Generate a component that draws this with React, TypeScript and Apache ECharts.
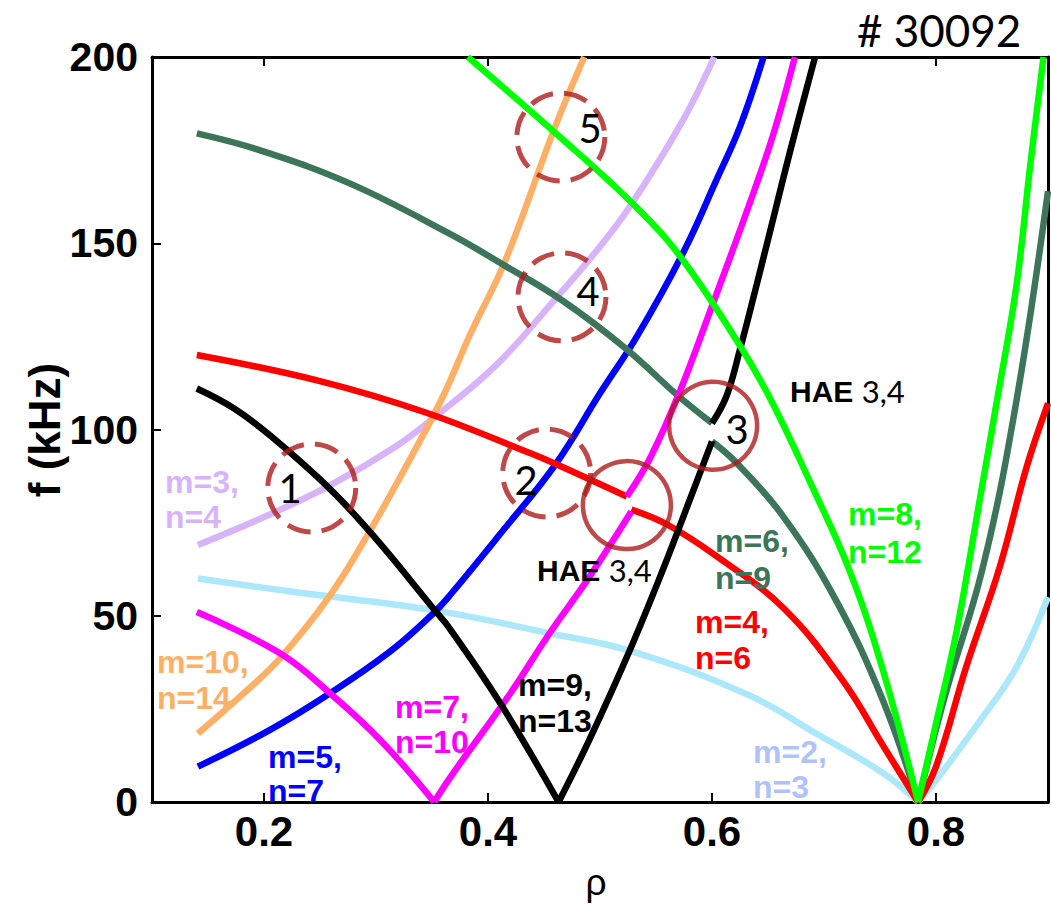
import React, { useEffect, useRef } from 'react';
import * as echarts from 'echarts';

// ---- axes ----
const xTicks = [0.2, 0.4, 0.6, 0.8];
const yTicks = [0, 50, 100, 150, 200];

// ---- curves: [rho, f (kHz)] ----
const m2n3Left = [[0.141, 60], [0.229, 56.3], [0.351, 51.5], [0.455, 45.3], [0.53, 40.3], [0.634, 28.5], [0.693, 18.4], [0.753, 7.7], [0.784, 0]];
const m2n3Right = [[0.784, 0], [0.798, 5], [0.842, 22.9], [0.872, 36.3], [0.9, 55]];
const m3n4 = [[0.141, 69], [0.2, 76.5], [0.259, 85], [0.318, 95.5], [0.351, 103], [0.408, 117.5], [0.46, 135], [0.497, 148], [0.527, 160], [0.574, 183], [0.602, 200]];
const m10n14 = [[0.141, 18.4], [0.179, 28.4], [0.214, 38.5], [0.259, 55.5], [0.295, 73], [0.333, 93.5], [0.36, 109], [0.384, 125.5], [0.415, 145], [0.46, 181.3], [0.486, 200]];
const m5n7 = [[0.141, 9.5], [0.205, 19.3], [0.259, 29.2], [0.313, 40.5], [0.351, 50.6], [0.366, 55.5], [0.411, 72], [0.46, 90.5], [0.5, 109.7], [0.533, 125], [0.574, 147.3], [0.604, 167], [0.625, 181.3], [0.646, 200]];
const m7n10Left = [[0.14, 51], [0.214, 40], [0.259, 29.2], [0.304, 16.6], [0.352, 0]];
const m7n10Rise = [[0.352, 0], [0.366, 6.5], [0.42, 29.2], [0.455, 45.3], [0.485, 58], [0.509, 69], [0.528, 78]];
const m7n10Upper = [[0.524, 82], [0.545, 92.5], [0.571, 110], [0.598, 131.5], [0.634, 161], [0.655, 179.5], [0.674, 200]];
const m9n13Left = [[0.14, 111], [0.173, 105.7], [0.205, 98.5], [0.259, 84], [0.301, 70.3], [0.351, 52], [0.366, 46.5], [0.411, 26.5], [0.463, 0]];
const m9n13Rise = [[0.463, 0], [0.491, 17], [0.527, 41], [0.557, 63], [0.58, 81], [0.6, 96.8]];
const m9n13Upper = [[0.6, 101.7], [0.613, 109], [0.625, 121.5], [0.64, 139], [0.655, 157], [0.67, 175], [0.692, 200]];
const m4n6Left = [[0.14, 120], [0.25, 113], [0.345, 104.5], [0.438, 93.6], [0.46, 90.8], [0.524, 82]];
const m4n6Mid = [[0.528, 78.5], [0.56, 74.5], [0.604, 66], [0.664, 52], [0.717, 32.5], [0.753, 15], [0.784, 0]];
const m4n6Right = [[0.784, 0], [0.8, 9.5], [0.827, 36.3], [0.857, 63.2], [0.881, 90], [0.9, 107]];
const m6n9Left = [[0.14, 179.5], [0.196, 175], [0.277, 166], [0.366, 152.5], [0.415, 144], [0.467, 134.5], [0.524, 121.5], [0.568, 109.5], [0.6, 101.7]];
const m6n9Mid = [[0.6, 96.8], [0.622, 91], [0.664, 76.5], [0.711, 54], [0.753, 27], [0.784, 0]];
const m6n9Right = [[0.784, 0], [0.807, 27.4], [0.842, 63.2], [0.872, 108], [0.9, 164]];
const m8n12Left = [[0.382, 200], [0.464, 178.6], [0.533, 159.5], [0.574, 145.5], [0.628, 121], [0.655, 106.5], [0.688, 85.6], [0.723, 62], [0.753, 35], [0.784, 0]];
const m8n12Right = [[0.784, 0], [0.798, 18.4], [0.818, 45.3], [0.839, 81], [0.854, 107], [0.872, 139], [0.884, 170.6], [0.896, 200]];

// ---- marked crossings (circle centres) ----
const dashedCircles = [[0.2426, 84.3], [0.4524, 88.3], [0.466, 135.6], [0.465, 178.5]];
const solidCircles = [[0.524, 79.7], [0.601, 101]];

const C = {
  lightBlue: '#ADE8FA',
  periwinkle: '#AFC3F7',
  lavender: '#D7B4FA',
  orange: '#FFB066',
  blue: '#0000FF',
  magenta: '#FF00FF',
  black: '#000000',
  red: '#FF0000',
  teal: '#3C7559',
  green: '#00FF00',
  circle: '#AE1C1C',
};

const curves: { data: number[][]; color: string }[] = [
  { data: m2n3Left, color: C.lightBlue },
  { data: m2n3Right, color: C.lightBlue },
  { data: m3n4, color: C.lavender },
  { data: m10n14, color: C.orange },
  { data: m5n7, color: C.blue },
  { data: m6n9Left, color: C.teal },
  { data: m6n9Mid, color: C.teal },
  { data: m6n9Right, color: C.teal },
  { data: m4n6Left, color: C.red },
  { data: m4n6Mid, color: C.red },
  { data: m4n6Right, color: C.red },
  { data: m7n10Left, color: C.magenta },
  { data: m7n10Rise, color: C.magenta },
  { data: m7n10Upper, color: C.magenta },
  { data: m9n13Left, color: C.black },
  { data: m9n13Rise, color: C.black },
  { data: m9n13Upper, color: C.black },
  { data: m8n12Left, color: C.green },
  { data: m8n12Right, color: C.green },
];

const modeLabels = [
  { text: 'm=3,\nn=4', color: C.lavender, x: 165, y: 464, lh: 35 },
  { text: 'm=10,\nn=14', color: C.orange, x: 157, y: 644, lh: 36 },
  { text: 'm=5,\nn=7', color: C.blue, x: 268, y: 740, lh: 34 },
  { text: 'm=7,\nn=10', color: C.magenta, x: 395, y: 689, lh: 35 },
  { text: 'm=9,\nn=13', color: C.black, x: 518, y: 667, lh: 36 },
  { text: 'm=6,\nn=9', color: C.teal, x: 715, y: 522, lh: 37 },
  { text: 'm=4,\nn=6', color: C.red, x: 695, y: 604, lh: 36 },
  { text: 'm=8,\nn=12', color: C.green, x: 848, y: 495, lh: 38 },
  { text: 'm=2,\nn=3', color: C.periwinkle, x: 753, y: 734, lh: 35 },
];

const circleNumbers = [
  { text: '1', x: 290, y: 488 },
  { text: '2', x: 526, y: 480 },
  { text: '3', x: 737, y: 429 },
  { text: '4', x: 588, y: 291 },
  { text: '5', x: 590, y: 128 },
];

const haeLabels = [
  { x: 537, y: 570 },
  { x: 790, y: 391 },
];

const SANS = '"Liberation Sans", Arial, sans-serif';
const CAL = 'Lato, "Open Sans", sans-serif';

export default function App() {
  const ref = useRef<HTMLDivElement>(null);
  useEffect(() => {
    if (!ref.current) return;
    const chart = echarts.init(ref.current, null, { renderer: 'svg' });
    const axisLine = { show: true, onZero: false, lineStyle: { color: '#000', width: 3 } };
    const tickStyle = { color: '#000', width: 2 };
    const series: any[] = curves.map((c) => ({
      type: 'line',
      data: c.data,
      showSymbol: false,
      symbol: 'none',
      smooth: 0.4,
      lineStyle: { color: c.color, width: 6.5 },
      z: 2,
    }));
    series.push({
      type: 'scatter',
      data: dashedCircles,
      symbol: 'circle',
      symbolSize: 88,
      itemStyle: { color: 'rgba(0,0,0,0)', borderColor: C.circle, borderWidth: 5, borderType: [24, 11] },
      z: 5,
    });
    series.push({
      type: 'scatter',
      data: solidCircles,
      symbol: 'circle',
      symbolSize: 88,
      itemStyle: { color: 'rgba(0,0,0,0)', borderColor: C.circle, borderWidth: 4.5 },
      z: 5,
    });

    const graphic: any[] = [];
    modeLabels.forEach((l) => {
      graphic.push({
        type: 'text', x: l.x, y: l.y, z: 100,
        style: { text: l.text, fill: l.color, fontSize: 32, fontWeight: 'bold', fontFamily: SANS, lineHeight: l.lh, align: 'left', verticalAlign: 'top' },
      });
    });
    circleNumbers.forEach((n) => {
      graphic.push({
        type: 'text', x: n.x, y: n.y, z: 100,
        style: { text: n.text, fill: '#000', fontSize: 40, fontFamily: CAL, align: 'center', verticalAlign: 'middle' },
      });
    });
    haeLabels.forEach((h) => {
      graphic.push({
        type: 'text', x: h.x, y: h.y, z: 100,
        style: {
          text: '{b|HAE }{n|3,4}', align: 'left', verticalAlign: 'middle',
          rich: {
            b: { fontSize: 30, fontWeight: 'bold', fontFamily: SANS, fill: '#000' },
            n: { fontSize: 31, fontFamily: CAL, fill: '#000' },
          },
        },
      });
    });
    graphic.push({
      type: 'text', x: 857, y: 30, z: 100,
      style: { text: '# 30092', fill: '#000', fontSize: 44, fontFamily: CAL, align: 'left', verticalAlign: 'middle' },
    });
    graphic.push({
      type: 'text', x: 44, y: 430, rotation: Math.PI / 2, z: 100,
      style: { text: 'f (kHz)', fill: '#000', fontSize: 44, fontWeight: 'bold', fontFamily: SANS, align: 'center', verticalAlign: 'middle' },
    });
    graphic.push({
      type: 'text', x: 596, y: 882, z: 100,
      style: { text: 'ρ', fill: '#000', fontSize: 37, fontFamily: SANS, align: 'center', verticalAlign: 'middle' },
    });

    chart.setOption({
      animation: false,
      backgroundColor: '#fff',
      grid: { left: 152, right: 3, top: 57, bottom: 106, containLabel: false },
      xAxis: [
        {
          type: 'value', min: 0.1, max: 0.9, position: 'bottom',
          axisLine,
          axisTick: { show: true, inside: true, length: 9, lineStyle: tickStyle, customValues: xTicks },
          axisLabel: {
            customValues: xTicks, formatter: (v: number) => v.toFixed(1),
            fontSize: 42, fontWeight: 'bold', fontFamily: SANS, color: '#000', margin: 8,
          },
          splitLine: { show: false },
        },
        {
          type: 'value', min: 0.1, max: 0.9, position: 'top',
          axisLine,
          axisTick: { show: true, inside: true, length: 9, lineStyle: tickStyle, customValues: xTicks },
          axisLabel: { show: false },
          splitLine: { show: false },
        },
      ],
      yAxis: [
        {
          type: 'value', min: 0, max: 200, interval: 50, position: 'left',
          axisLine,
          axisTick: { show: true, inside: true, length: 9, lineStyle: tickStyle, customValues: yTicks },
          axisLabel: {
            customValues: yTicks,
            fontSize: 41, fontWeight: 'bold', fontFamily: SANS, color: '#000', margin: 14,
          },
          splitLine: { show: false },
        },
        {
          type: 'value', min: 0, max: 200, position: 'right',
          axisLine,
          axisTick: { show: false },
          axisLabel: { show: false },
          splitLine: { show: false },
        },
      ],
      series,
      graphic,
    });
    return () => chart.dispose();
  }, []);
  return <div ref={ref} style={{ position: 'fixed', left: 0, top: 0, width: 1051, height: 908, background: '#fff' }} />;
}
